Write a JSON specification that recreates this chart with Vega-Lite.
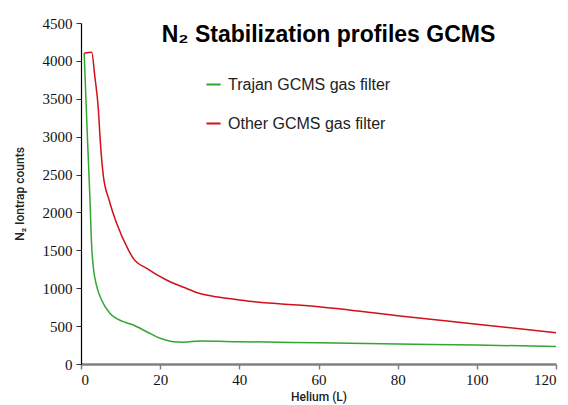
{
  "$schema": "https://vega.github.io/schema/vega-lite/v6.json",
  "width": 475,
  "height": 341,
  "autosize": {"type": "none"},
  "padding": {"left": 81, "top": 23, "right": 12, "bottom": 41},
  "background": "white",
  "config": {"view": {"stroke": null}},
  "title": {
    "text": "N₂ Stabilization profiles GCMS",
    "font": "Liberation Sans",
    "fontWeight": "bold",
    "fontSize": 23,
    "color": "#000000",
    "anchor": "middle",
    "dx": 10,
    "offset": -31
  },
  "data": {
    "values": [
      {"helium": 0.8, "counts": 4100, "filter": "Trajan GCMS gas filter"},
      {"helium": 1.5, "counts": 3150, "filter": "Trajan GCMS gas filter"},
      {"helium": 2.27, "counts": 2164, "filter": "Trajan GCMS gas filter"},
      {"helium": 2.7, "counts": 1548, "filter": "Trajan GCMS gas filter"},
      {"helium": 3.1, "counts": 1284, "filter": "Trajan GCMS gas filter"},
      {"helium": 4.0, "counts": 1020, "filter": "Trajan GCMS gas filter"},
      {"helium": 5.2, "counts": 845, "filter": "Trajan GCMS gas filter"},
      {"helium": 7.3, "counts": 669, "filter": "Trajan GCMS gas filter"},
      {"helium": 10.7, "counts": 559, "filter": "Trajan GCMS gas filter"},
      {"helium": 13.2, "counts": 515, "filter": "Trajan GCMS gas filter"},
      {"helium": 16.6, "counts": 426, "filter": "Trajan GCMS gas filter"},
      {"helium": 20, "counts": 339, "filter": "Trajan GCMS gas filter"},
      {"helium": 23.3, "counts": 294, "filter": "Trajan GCMS gas filter"},
      {"helium": 25.9, "counts": 288, "filter": "Trajan GCMS gas filter"},
      {"helium": 30, "counts": 303, "filter": "Trajan GCMS gas filter"},
      {"helium": 40, "counts": 295, "filter": "Trajan GCMS gas filter"},
      {"helium": 60, "counts": 280, "filter": "Trajan GCMS gas filter"},
      {"helium": 80, "counts": 265, "filter": "Trajan GCMS gas filter"},
      {"helium": 100, "counts": 250, "filter": "Trajan GCMS gas filter"},
      {"helium": 120, "counts": 232, "filter": "Trajan GCMS gas filter"},
      {"helium": 0.8, "counts": 4100, "filter": "Other GCMS gas filter"},
      {"helium": 2.7, "counts": 4113, "filter": "Other GCMS gas filter"},
      {"helium": 3.5, "counts": 3790, "filter": "Other GCMS gas filter"},
      {"helium": 4.4, "counts": 3352, "filter": "Other GCMS gas filter"},
      {"helium": 4.8, "counts": 3000, "filter": "Other GCMS gas filter"},
      {"helium": 5.6, "counts": 2500, "filter": "Other GCMS gas filter"},
      {"helium": 7.1, "counts": 2164, "filter": "Other GCMS gas filter"},
      {"helium": 9, "counts": 1857, "filter": "Other GCMS gas filter"},
      {"helium": 12, "counts": 1504, "filter": "Other GCMS gas filter"},
      {"helium": 13.2, "counts": 1394, "filter": "Other GCMS gas filter"},
      {"helium": 16.6, "counts": 1262, "filter": "Other GCMS gas filter"},
      {"helium": 21.6, "counts": 1108, "filter": "Other GCMS gas filter"},
      {"helium": 25.9, "counts": 1012, "filter": "Other GCMS gas filter"},
      {"helium": 30, "counts": 930, "filter": "Other GCMS gas filter"},
      {"helium": 35, "counts": 880, "filter": "Other GCMS gas filter"},
      {"helium": 40, "counts": 845, "filter": "Other GCMS gas filter"},
      {"helium": 45, "counts": 815, "filter": "Other GCMS gas filter"},
      {"helium": 50, "counts": 795, "filter": "Other GCMS gas filter"},
      {"helium": 60, "counts": 756, "filter": "Other GCMS gas filter"},
      {"helium": 80, "counts": 637, "filter": "Other GCMS gas filter"},
      {"helium": 100, "counts": 525, "filter": "Other GCMS gas filter"},
      {"helium": 120, "counts": 413, "filter": "Other GCMS gas filter"}
    ]
  },
  "mark": {"type": "line", "interpolate": "monotone", "strokeWidth": 1.5},
  "encoding": {
    "x": {
      "field": "helium",
      "type": "quantitative",
      "scale": {"domain": [0, 120], "nice": false},
      "axis": {
        "title": "Helium (L)",
        "values": [0, 20, 40, 60, 80, 100, 120],
        "format": "d",
        "grid": false,
        "domainColor": "#808080",
        "domainWidth": 2.5,
        "tickColor": "#808080",
        "tickWidth": 1.5,
        "tickSize": 5,
        "labelFont": "Liberation Sans Narrow",
        "labelFontSize": 15,
        "labelColor": "#111111",
        "labelPadding": 3,
        "titleFont": "Roboto",
        "titleFontSize": 12,
        "titleFontWeight": 500,
        "titleColor": "#222222",
        "titlePadding": 4
      }
    },
    "y": {
      "field": "counts",
      "type": "quantitative",
      "scale": {"domain": [0, 4500], "nice": false},
      "axis": {
        "title": "N₂ Iontrap counts",
        "values": [0, 500, 1000, 1500, 2000, 2500, 3000, 3500, 4000, 4500],
        "format": "d",
        "grid": false,
        "domainColor": "#000000",
        "domainWidth": 1.2,
        "tickColor": "#333333",
        "tickSize": 5,
        "labelFont": "Liberation Sans Narrow",
        "labelFontSize": 15,
        "labelColor": "#111111",
        "labelPadding": 4,
        "titleFont": "Roboto",
        "titleFontSize": 12,
        "titleFontWeight": 500,
        "titleColor": "#222222",
        "titlePadding": 16
      }
    },
    "color": {
      "field": "filter",
      "type": "nominal",
      "sort": ["Trajan GCMS gas filter", "Other GCMS gas filter"],
      "scale": {
        "domain": ["Trajan GCMS gas filter", "Other GCMS gas filter"],
        "range": ["#33a532", "#d0101c"]
      },
      "legend": {
        "title": null,
        "orient": "none",
        "legendX": 124,
        "legendY": 53,
        "symbolType": "stroke",
        "symbolSize": 200,
        "symbolStrokeWidth": 2,
        "rowPadding": 22,
        "labelFont": "Liberation Sans",
        "labelFontSize": 16,
        "labelLimit": 400,
        "labelColor": "#222222",
        "labelOffset": 6
      }
    }
  }
}
